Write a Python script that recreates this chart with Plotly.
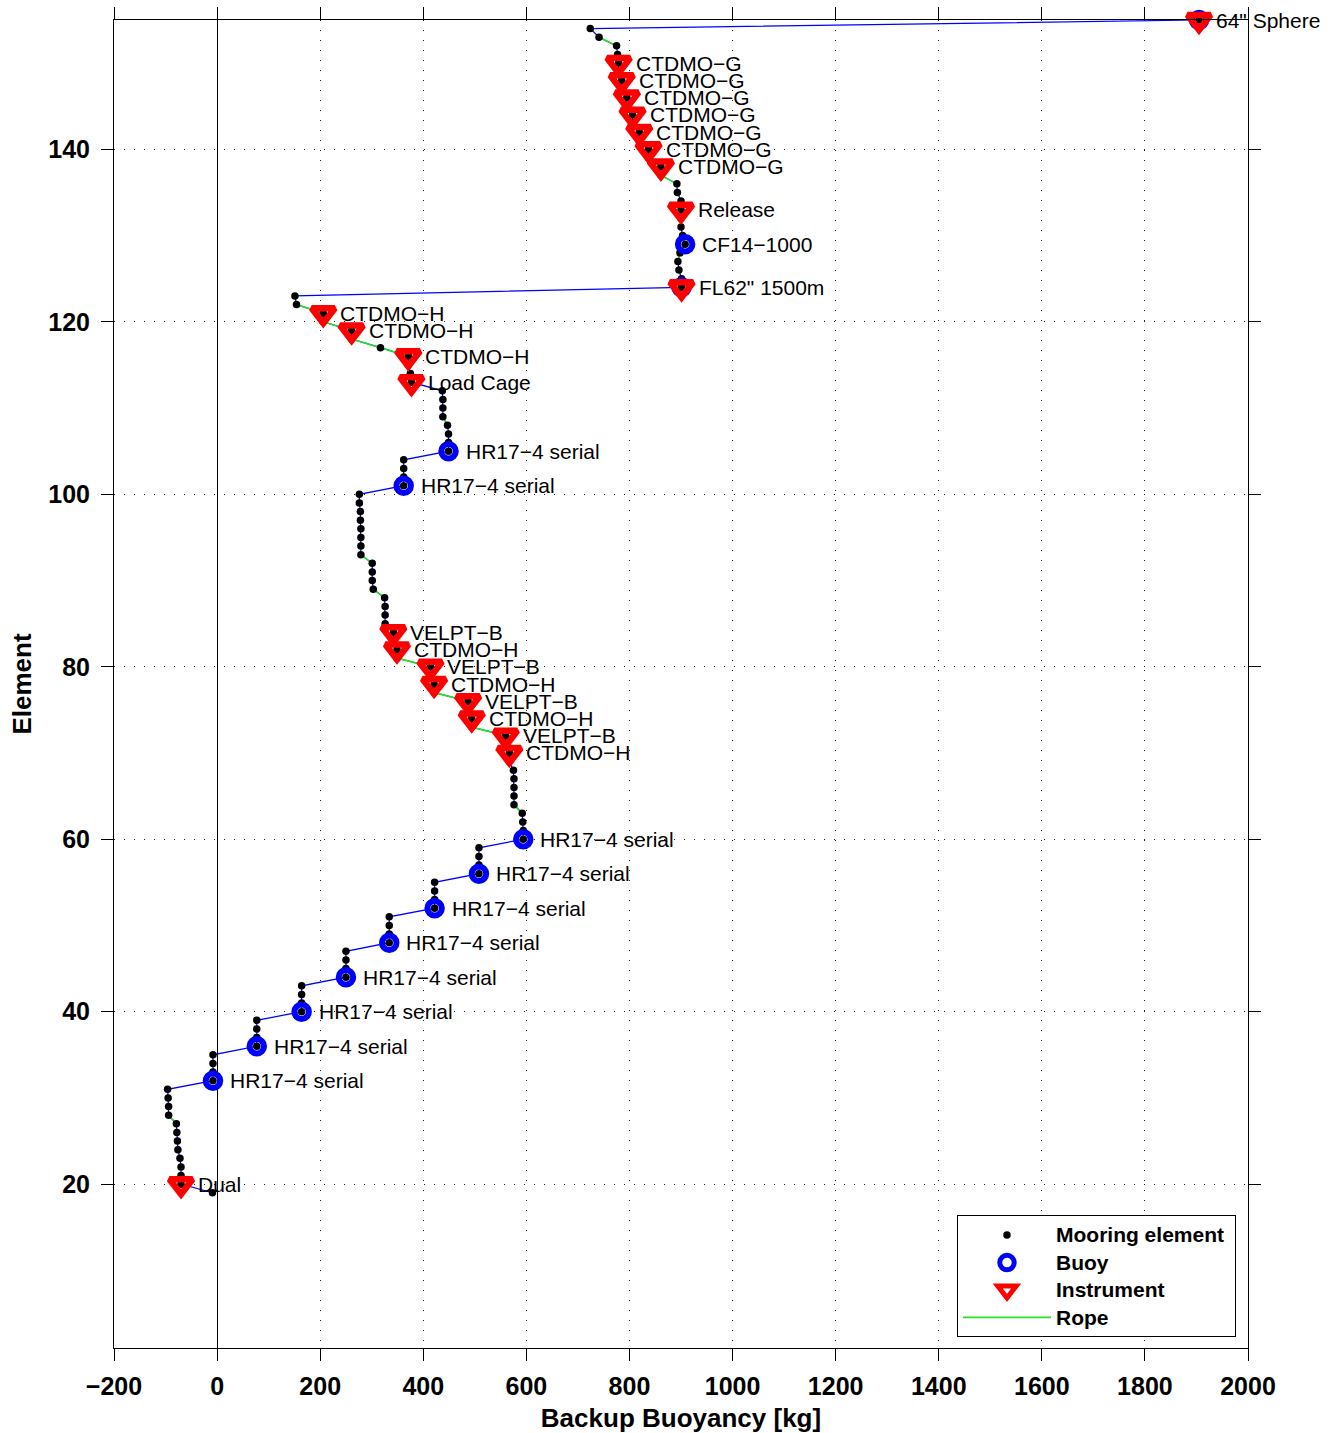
import plotly.graph_objects as go

# ---------------- data ----------------
elements = list(range(19, 156))
buoyancy = [
    -9, -70, -70, -70, -72, -76, -77, -78, -79,            # 19-27
    -94, -94, -95, -96,                                     # 28-31
    -8, -8, -8, -8,                                         # 32-35
    77, 77, 77, 77,                                         # 36-39
    164, 164, 164, 164,                                     # 40-43
    250, 250, 250, 250,                                     # 44-47
    334, 334, 334, 334,                                     # 48-51
    422, 422, 422, 422,                                     # 52-55
    508, 508, 508, 508,                                     # 56-59
    594, 594, 593, 592,                                     # 60-63
    576, 576, 576, 576, 575,                                # 64-68
    567, 567, 560, 560, 494, 494, 487, 487,                 # 69-76
    421, 421, 414, 414, 349, 349, 342, 342,                 # 77-84
    326, 326, 326, 325,                                     # 85-88
    303, 301, 301, 301,                                     # 89-92
    279, 279, 279, 279, 278, 278, 276, 276,                 # 93-100
    362, 362, 362, 362,                                     # 101-104
    449, 449, 449, 447,                                     # 105-108
    438, 438, 438, 437,                                     # 109-112
    377, 375, 371, 371, 317, 261, 261, 206, 206, 154, 151,  # 113-123
    901, 901, 896, 894, 898, 908, 903, 900, 900, 900,       # 124-133
    900, 893, 892,                                          # 134-136
    861, 861, 837, 837, 819, 819, 806, 806,                 # 137-144
    795, 795, 785, 785, 779, 779,                           # 145-150
    777, 775, 741, 724, 1905,                               # 151-155
]

# lower element of each rope (green) segment
rope_segments = [27, 63, 72, 76, 80, 88, 92, 108, 116, 117, 119, 121,
                 127, 136, 138, 140, 142, 144, 146, 148, 152]

buoy_elements = [32, 36, 40, 44, 48, 52, 56, 60, 101, 105, 124, 129, 155]
instrument_elements = [20, 70, 72, 74, 76, 78, 80, 82, 84, 113, 116, 119,
                       121, 124, 133, 138, 140, 142, 144, 146, 148, 150, 155]

label_elements = [20, 32, 36, 40, 44, 48, 52, 56, 60,
                  70, 72, 74, 76, 78, 80, 82, 84,
                  101, 105, 113, 116, 119, 121, 124, 129, 133,
                  138, 140, 142, 144, 146, 148, 150, 155]
label_names = ["Dual"] + ["HR17−4 serial"] * 8 + \
    ["CTDMO−H", "VELPT−B", "CTDMO−H", "VELPT−B",
     "CTDMO−H", "VELPT−B", "CTDMO−H", "VELPT−B"] + \
    ["HR17−4 serial", "HR17−4 serial", "Load Cage", "CTDMO−H", "CTDMO−H",
     "CTDMO−H", 'FL62" 1500m', "CF14−1000", "Release"] + \
    ["CTDMO−G"] * 7 + ['64" Sphere']

legend_names = ["Mooring element", "Buoy", "Instrument", "Rope"]

x_ticks = list(range(-200, 2001, 200))
y_ticks = list(range(20, 141, 20))

# ---------------- figure ----------------
val = dict(zip(elements, buoyancy))


def leg(name):
    return '<span style="font-size:21px">' + name + '</span>'


rope_x, rope_y = [], []
for e in rope_segments:
    rope_x += [val[e], val[e + 1], None]
    rope_y += [e, e + 1, None]

fig = go.Figure()

fig.add_trace(go.Scatter(
    x=buoyancy, y=elements, mode="lines",
    line=dict(color="#0000ff", width=1.2),
    showlegend=False, hoverinfo="skip", cliponaxis=False))

fig.add_trace(go.Scatter(
    x=rope_x, y=rope_y, mode="lines", name=leg(legend_names[3]),
    legendrank=4,
    line=dict(color="#22e622", width=1.6),
    cliponaxis=False))

fig.add_trace(go.Scatter(
    x=buoyancy, y=elements, mode="markers",
    name=leg(legend_names[0] + "\u00a0"), legendrank=1,
    marker=dict(symbol="circle", size=7.5, color="black"),
    cliponaxis=False))

fig.add_trace(go.Scatter(
    x=[val[e] for e in buoy_elements], y=buoy_elements, mode="markers",
    name=leg(legend_names[1]), legendrank=2,
    marker=dict(symbol="circle-open", size=14.5, color="#0000ff",
                line=dict(width=6, color="#0000ff")),
    cliponaxis=False))

fig.add_trace(go.Scatter(
    x=[val[e] for e in instrument_elements], y=instrument_elements,
    mode="markers", name=leg(legend_names[2]), legendrank=3,
    marker=dict(symbol="triangle-down-open", size=20, color="#ff0000",
                line=dict(width=6.5, color="#ff0000")),
    cliponaxis=False))

annotations = []
for e, name in zip(label_elements, label_names):
    annotations.append(dict(
        x=val[e], y=e, xref="x", yref="y", text=name, showarrow=False,
        xanchor="left", yanchor="middle", xshift=15,
        font=dict(size=21, color="black",
                  family="Liberation Sans, Arial, sans-serif")))

fig.update_layout(
    width=1339, height=1433,
    margin=dict(l=114, r=91, t=20, b=85, autoexpand=False),
    plot_bgcolor="white", paper_bgcolor="white",
    font=dict(family="Liberation Sans, Arial, sans-serif", color="black"),
    annotations=annotations,
    showlegend=True,
    legend=dict(x=0.9894, y=0.008, xanchor="right", yanchor="bottom",
                bordercolor="black", borderwidth=1, bgcolor="white",
                font=dict(size=18.8, weight="bold"), itemwidth=88,
                tracegroupgap=0),
)

axis_common = dict(
    showline=True, mirror="ticks", linecolor="black", linewidth=1,
    ticks="outside", ticklen=12, tickcolor="black", tickwidth=1,
    showgrid=True, gridcolor="#222222", griddash="1px,9px", gridwidth=1,
    tickfont=dict(size=25, weight="bold"), automargin=False,
)

fig.update_xaxes(
    range=[-200, 2000], tickmode="array", tickvals=x_ticks,
    zeroline=True, zerolinecolor="black", zerolinewidth=1,
    ticklabelstandoff=4,
    title=dict(text="Backup Buoyancy [kg]",
               font=dict(size=26, weight="bold"), standoff=9),
    **axis_common)

fig.update_yaxes(
    range=[1, 155], tickmode="array", tickvals=y_ticks,
    zeroline=False, ticklabelstandoff=6,
    title=dict(text="Element", font=dict(size=26, weight="bold"),
               standoff=9),
    **axis_common)

fig.write_html("out.html")
